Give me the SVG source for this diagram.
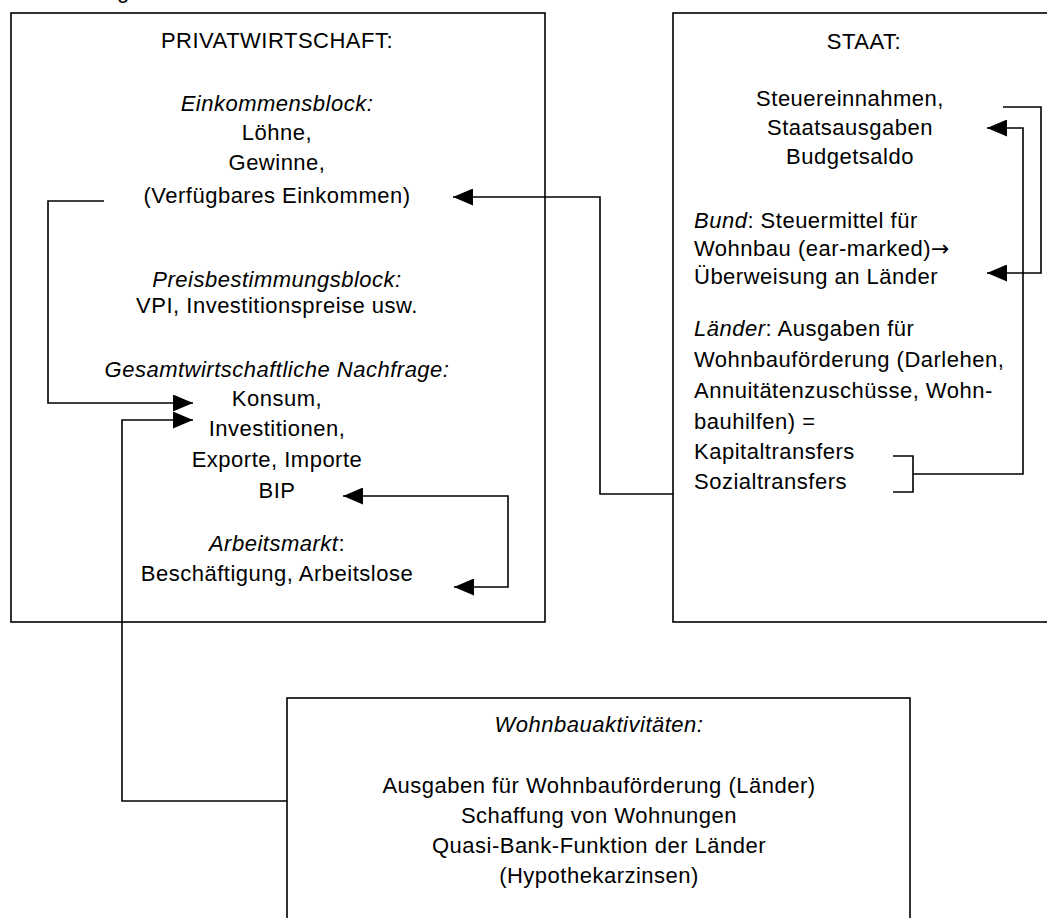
<svg xmlns="http://www.w3.org/2000/svg" width="1047" height="918" viewBox="0 0 1047 918">
  <style>
    .t { font-family: "Liberation Sans", Arial, sans-serif; font-size: 22px; fill: #000; letter-spacing: 0.5px; }
    .c { text-anchor: middle; }
    .i { font-style: italic; }
    .sym { font-family: "DejaVu Sans", sans-serif; letter-spacing: 0; }
    .box { fill: #fff; stroke: #000; stroke-width: 1.6; }
    .ln { fill: none; stroke: #000; stroke-width: 1.6; }
  </style>
  <defs>
    <marker id="ah" markerUnits="userSpaceOnUse" markerWidth="20" markerHeight="17" refX="20" refY="8.5" orient="auto-start-reverse" viewBox="0 0 20 17">
      <path d="M0,0 L20,8.5 L0,17 Z" fill="#000"/>
    </marker>
  </defs>
  <rect width="1047" height="918" fill="#fff"/>

  <text class="t" x="117" y="-2">g</text>

  <g id="privatwirtschaft">
    <rect class="box" x="11" y="13" width="534" height="609"/>
    <text class="t c" x="277" y="48">PRIVATWIRTSCHAFT:</text>
    <text class="t c i" x="277" y="111">Einkommensblock:</text>
    <text class="t c" x="277" y="140">Löhne,</text>
    <text class="t c" x="277" y="170">Gewinne,</text>
    <text class="t c" x="277" y="203">(Verfügbares Einkommen)</text>
    <text class="t c i" x="277" y="287">Preisbestimmungsblock:</text>
    <text class="t c" x="277" y="313">VPI, Investitionspreise usw.</text>
    <text class="t c i" x="277" y="377">Gesamtwirtschaftliche Nachfrage:</text>
    <text class="t c" x="277" y="406">Konsum,</text>
    <text class="t c" x="277" y="436">Investitionen,</text>
    <text class="t c" x="277" y="467">Exporte, Importe</text>
    <text class="t c" x="277" y="498">BIP</text>
    <text class="t c" x="277" y="551"><tspan class="i">Arbeitsmarkt</tspan>:</text>
    <text class="t c" x="277" y="581">Beschäftigung, Arbeitslose</text>
  </g>

  <g id="staat">
    <rect class="box" x="673" y="13" width="400" height="609"/>
    <text class="t c" x="864" y="49">STAAT:</text>
    <text class="t c" x="850" y="106">Steuereinnahmen,</text>
    <text class="t c" x="850" y="135">Staatsausgaben</text>
    <text class="t c" x="850" y="164">Budgetsaldo</text>
    <text class="t" x="694" y="228"><tspan class="i">Bund</tspan>: Steuermittel für</text>
    <text class="t" x="694" y="256">Wohnbau (ear-marked)<tspan class="sym">→</tspan></text>
    <text class="t" x="694" y="284">Überweisung an Länder</text>
    <text class="t" x="694" y="336"><tspan class="i">Länder</tspan>: Ausgaben für</text>
    <text class="t" x="694" y="367">Wohnbauförderung (Darlehen,</text>
    <text class="t" x="694" y="398">Annuitätenzuschüsse, Wohn-</text>
    <text class="t" x="694" y="429">bauhilfen) =</text>
    <text class="t" x="694" y="459">Kapitaltransfers</text>
    <text class="t" x="694" y="489">Sozialtransfers</text>
  </g>

  <g id="wohnbauaktivitaeten">
    <rect class="box" x="287" y="698" width="623" height="260"/>
    <text class="t c i" x="599" y="732">Wohnbauaktivitäten:</text>
    <text class="t c" x="599" y="793">Ausgaben für Wohnbauförderung (Länder)</text>
    <text class="t c" x="599" y="823">Schaffung von Wohnungen</text>
    <text class="t c" x="599" y="853">Quasi-Bank-Funktion der Länder</text>
    <text class="t c" x="599" y="883">(Hypothekarzinsen)</text>
  </g>

  <g id="connectors">
    <path class="ln" d="M673,494 H600 V197 H453" marker-end="url(#ah)"/>
    <path class="ln" d="M104,201 H48 V403 H193" marker-end="url(#ah)"/>
    <path class="ln" d="M287,801 H122 V420 H193" marker-end="url(#ah)"/>
    <path class="ln" d="M343,496 H508 V587 H454" marker-start="url(#ah)" marker-end="url(#ah)"/>
    <path class="ln" d="M1003,107 H1041 V273 H987" marker-end="url(#ah)"/>
    <path class="ln" d="M893,456 H913 V492 H893"/>
    <path class="ln" d="M913,474 H1023 V128 H987" marker-end="url(#ah)"/>
  </g>
</svg>
